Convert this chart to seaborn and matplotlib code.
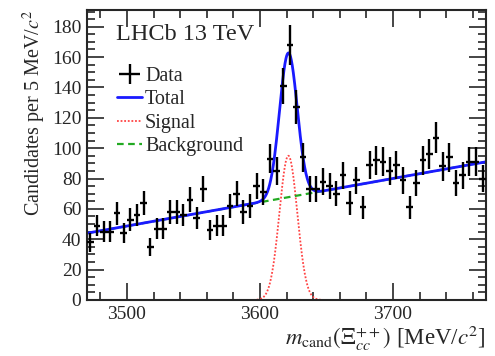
import numpy as np
import pandas as pd
import matplotlib
matplotlib.use("Agg")
import matplotlib.pyplot as plt
from matplotlib.lines import Line2D
from matplotlib.ticker import MultipleLocator
import seaborn as sns

# ---- data ----
bin_centers = [3472.5 + 5 * i for i in range(60)]
counts = [38, 49, 45, 45, 57, 44, 53, 56, 64, 35,
          47, 47, 58, 58, 56, 66, 54, 73, 46, 49,
          49, 62, 70, 58, 62, 75, 71, 93, 85, 141,
          168, 127, 94, 73, 73, 78, 75, 70, 82, 64,
          79, 61, 89, 92, 91, 85, 89, 79, 61, 77,
          92, 96, 107, 88, 94, 77, 82, 91, 91, 80]
bin_width = 5.0

# fit model parameters
signal_mean = 3621.4
signal_sigma = 6.7
signal_peak = 95.0
bkg_left = 44.0    # background at 3470
bkg_right = 91.0   # background at 3770
x_lo, x_hi = 3470, 3770

sns.set_style("ticks")
plt.rcParams["font.family"] = ["Liberation Serif", "DejaVu Serif"]
plt.rcParams["mathtext.fontset"] = "stix"

fig = plt.figure(figsize=(4.95, 3.56), dpi=100)
ax = fig.add_axes([87 / 495, 56 / 356, 399 / 495, 290 / 356])

xs = np.linspace(x_lo, x_hi, 1200)
sig = signal_peak * np.exp(-0.5 * ((xs - signal_mean) / signal_sigma) ** 2)
bkg = bkg_left + (bkg_right - bkg_left) * (xs - x_lo) / (x_hi - x_lo)
curves = pd.DataFrame({"m": xs, "sig": sig, "bkg": bkg, "tot": sig + bkg})

sns.lineplot(data=curves, x="m", y="sig", ax=ax, color="#ff4444",
             linestyle=(0, (1, 1)), linewidth=1.3)
sns.lineplot(data=curves, x="m", y="bkg", ax=ax, color="#22aa22",
             linestyle=(0, (3, 2)), linewidth=1.6)
sns.lineplot(data=curves, x="m", y="tot", ax=ax, color="#1a1aff",
             linewidth=2.0)

c = np.array(counts, dtype=float)
eb = ax.errorbar(bin_centers, c, yerr=np.sqrt(c), xerr=bin_width / 2,
                 fmt="none", ecolor="black", elinewidth=1.7, zorder=5)

ax.set_xlim(x_lo, x_hi)
ax.set_ylim(0, 191)
ax.xaxis.set_major_locator(MultipleLocator(100))
ax.xaxis.set_minor_locator(MultipleLocator(20))
ax.yaxis.set_major_locator(MultipleLocator(20))
ax.yaxis.set_minor_locator(MultipleLocator(5))
ax.tick_params(which="both", direction="in", top=True, right=True,
               width=1.2, labelsize=14)
ax.tick_params(which="major", length=12, pad=4)
ax.tick_params(which="minor", length=6)
for s in ax.spines.values():
    s.set_linewidth(1.5)

ax.set_xlabel(r"$m_{\rm cand}(\mathit{\Xi}_{cc}^{++})$ [MeV/$c^2$]",
              loc="right", fontsize=16.5, labelpad=1)
ax.set_ylabel(r"Candidates per 5 MeV/$c^2$", loc="top", fontsize=14.5,
              labelpad=3)

ax.text(0.073, 0.914, "LHCb 13 TeV", transform=ax.transAxes,
        fontsize=17.5, va="center", ha="left")

handles = [eb,
           Line2D([], [], color="#1a1aff", lw=2.0),
           Line2D([], [], color="#ff4444", lw=1.3, linestyle=(0, (1, 1))),
           Line2D([], [], color="#22aa22", lw=1.6, linestyle=(0, (3, 2)))]
labels = ["Data", "Total", "Signal", "Background"]
ax.legend(handles, labels, loc="upper left", bbox_to_anchor=(0.075, 0.805),
          frameon=False, fontsize=14.5, handlelength=1.25, handletextpad=0.15,
          labelspacing=0.22, borderaxespad=0, borderpad=0)

fig.savefig("out.png", dpi=100)
